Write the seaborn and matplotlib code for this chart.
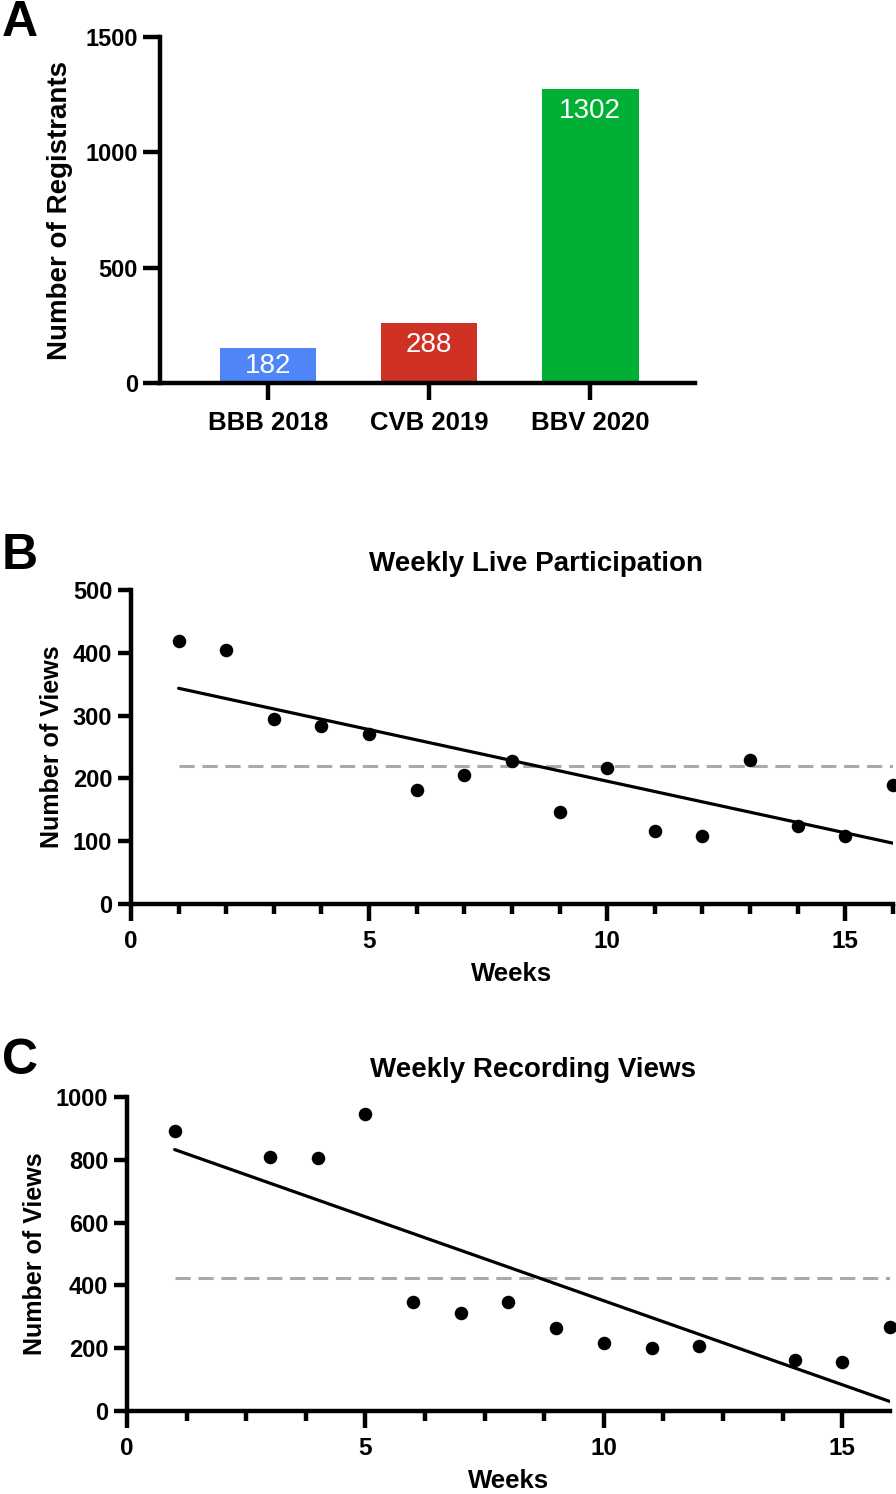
import matplotlib
matplotlib.use("Agg")
import matplotlib.pyplot as plt
import seaborn as sns
import numpy as np
from matplotlib.ticker import MultipleLocator

# panel A data
events = ["BBB 2018", "CVB 2019", "BBV 2020"]
registrants = [152, 260, 1275]          # bar heights as drawn
registrant_labels = ["182", "288", "1302"]
bar_colors = ["#4F86F7", "#CF3225", "#00B034"]

# panel B data
live_weeks = list(range(1, 17))
live_views = [419, 405, 294, 284, 271, 181, 205, 227, 146, 216, 116, 108, 229, 125, 108, 189]

# panel C data
rec_weeks = [1, 3, 4, 5, 6, 7, 8, 9, 10, 11, 12, 14, 15, 16]
rec_views = [890, 810, 805, 945, 347, 312, 347, 264, 215, 200, 208, 162, 156, 267]

sns.set_style("ticks")
plt.rcParams["font.family"] = ["Liberation Sans", "DejaVu Sans"]
for key in ("text.color", "axes.labelcolor", "xtick.color", "ytick.color", "axes.edgecolor"):
    plt.rcParams[key] = "black"

fig = plt.figure(figsize=(8.96, 14.94), dpi=100)
axA = fig.add_axes([0.1786, 0.7436, 0.597, 0.2316])
axB = fig.add_axes([0.1462, 0.3949, 0.8504, 0.2102])
axC = fig.add_axes([0.1417, 0.0556, 0.8516, 0.2102])


def style_axes(ax):
    sns.despine(ax=ax)
    for s in ("left", "bottom"):
        ax.spines[s].set_linewidth(3.2)
        ax.spines[s].set_color("black")
    ax.tick_params(which="both", width=3.2, color="black")
    for lab in ax.get_xticklabels() + ax.get_yticklabels():
        lab.set_fontweight("bold")


# ---- A ----
sns.barplot(x=events, y=registrants, hue=events, palette=bar_colors, saturation=1,
            width=0.6, legend=False, ax=axA, linewidth=0)
axA.set_xlim(-0.67, 2.65)
axA.set_ylim(0, 1500)
axA.set_yticks([0, 500, 1000, 1500])
axA.tick_params(axis="y", length=12, pad=4, labelsize=17)
axA.tick_params(axis="x", length=12, pad=8, labelsize=18.5)
axA.set_xlabel("")
axA.set_ylabel("Number of Registrants", fontweight="bold", fontsize=20, labelpad=9)
style_axes(axA)

px_per_unit = axA.bbox.height / 1500
for i, (h, lab) in enumerate(zip(registrants, registrant_labels)):
    half_pt = h * px_per_unit / 2 * 72 / fig.dpi
    off = min(16, half_pt)
    axA.annotate(lab, (i, h), xytext=(0, -off), textcoords="offset points",
                 ha="center", va="center", color="white", fontsize=20)


def trend_panel(ax, weeks, views, ymax, ystep, minor, title, tx, ypad):
    sns.regplot(x=weeks, y=views, ci=None, ax=ax, truncate=True,
                scatter_kws=dict(s=95, color="black", alpha=1, clip_on=False, zorder=3, linewidths=0),
                line_kws=dict(color="black", lw=2.3))
    ax.hlines(np.mean(views), min(weeks), max(weeks), colors="#AAAAAA",
              linestyles=(0, (5, 2.5)), lw=2.2, zorder=1)
    ax.set_xlim(0, 16)
    ax.set_ylim(0, ymax)
    ax.set_xticks([0, 5, 10, 15])
    ax.xaxis.set_minor_locator(MultipleLocator(minor))
    ax.set_yticks(np.arange(0, ymax + 1, ystep))
    ax.tick_params(axis="y", length=9.5, pad=4, labelsize=17)
    ax.tick_params(axis="x", which="major", length=12, pad=7, labelsize=17.5)
    ax.tick_params(axis="x", which="minor", length=7)
    ax.set_xlabel("Weeks", fontweight="bold", fontsize=18.5, labelpad=6)
    ax.set_ylabel("Number of Views", fontweight="bold", fontsize=18, labelpad=ypad)
    ax.set_title(title, x=tx, fontweight="bold", fontsize=20, pad=14)
    style_axes(ax)


trend_panel(axB, live_weeks, live_views, 500, 100, 1, "Weekly Live Participation", 0.531, 6)
trend_panel(axC, rec_weeks, rec_views, 1000, 200, 1.25, "Weekly Recording Views", 0.532, 6.5)

for letter, ytop in (("A", 0), ("B", 533), ("C", 1038)):
    fig.text(0.002, 1 - ytop / 1494, letter, fontweight="bold",
             fontsize=36, ha="left", va="top")

fig.savefig("out.png", dpi=100, facecolor="white")
